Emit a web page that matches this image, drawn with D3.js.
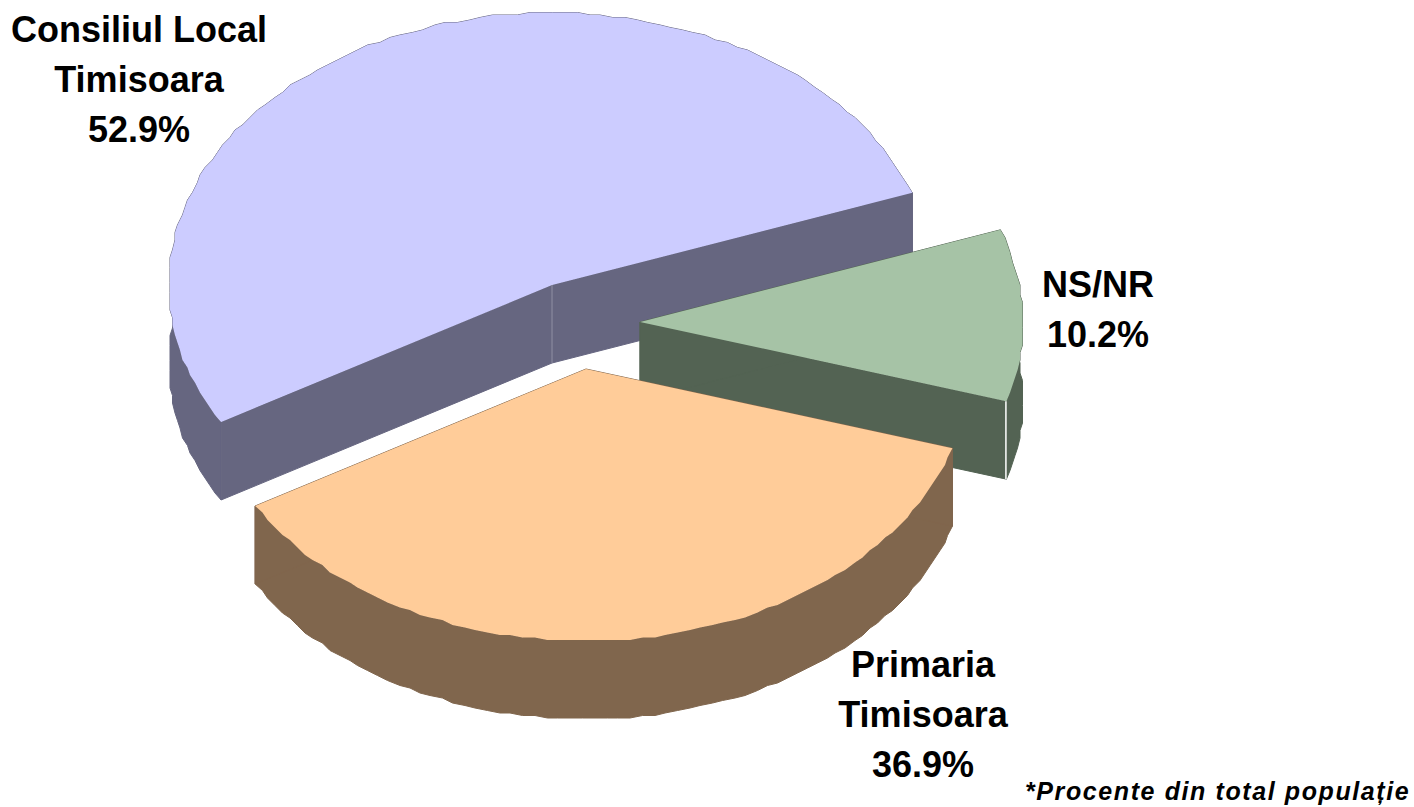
<!DOCTYPE html>
<html>
<head>
<meta charset="utf-8">
<script src="https://cdnjs.cloudflare.com/ajax/libs/d3/7.8.5/d3.min.js"></script>
<style>
  html, body { margin: 0; padding: 0; background: #fff; }
  text { font-family: "Liberation Sans", Arial, sans-serif; font-weight: bold; fill: #000; }
</style>
</head>
<body>
<div id="chart"></div>
<script>
var categories = ['Consiliul Local', 'Primaria', 'NS/NR'];
var categoryLines = [['Consiliul Local', 'Timisoara'], ['Primaria', 'Timisoara'], ['NS/NR']];
var values = [52.9, 36.9, 10.2];
var footnote = '*Procente din total populație';

var width = 1414;
var height = 807;

// layout of the exploded slices, same order as categories
var centers = [[552, 285], [586, 369], [640, 322]];
var topColors = ['#ccccff', '#ffcc99', '#a6c3a6'];
var sideColors = ['#666680', '#80664d', '#536353'];
var labelX = [139, 923, 1098];
var labelY = [42, 677, 297];
var drawOrder = [0, 2, 1];

var rx = 383;
var ry = 272;
var depth = 78;
var rimStep = Math.PI / 100;
var rimGrid = 2.5; // the original outline is rough, snap rim points to a coarse grid

var svg = d3.select('#chart')
  .append('svg')
  .attr('width', width)
  .attr('height', height);

// clockwise from north, first slice runs backwards over the top of the pie
var firstAngle = 70.2 * Math.PI / 180;
var pie = d3.pie()
  .sort(null)
  .startAngle(firstAngle)
  .endAngle(firstAngle - 2 * Math.PI);

var slices = pie(values);

function rimPoints(slice) {
  var a = slice.startAngle;
  var b = slice.endAngle;
  var n = Math.ceil(Math.abs(b - a) / rimStep);
  return d3.range(n + 1).map(function(i) {
    var p = [slice.px(a + (b - a) * i / n), slice.py(a + (b - a) * i / n)];
    if (i === 0 || i === n) return p;
    return [Math.round(p[0] / rimGrid) * rimGrid, Math.round(p[1] / rimGrid) * rimGrid];
  });
}

slices.forEach(function(slice, i) {
  var x = d3.scaleLinear().domain([-1, 1]).range([centers[i][0] - rx, centers[i][0] + rx]);
  var y = d3.scaleLinear().domain([-1, 1]).range([centers[i][1] - ry, centers[i][1] + ry]);
  slice.px = function(a) { return x(Math.sin(a)); };
  slice.py = function(a) { return y(-Math.cos(a)); };
  slice.cx = x(0);
  slice.cy = y(0);
});

var line = d3.line();

drawOrder.forEach(function(i) {
  var slice = slices[i];
  var top = rimPoints(slice);
  var bottom = top.map(function(p) { return [p[0], p[1] + depth]; }).reverse();
  var g = svg.append('g').attr('class', 'slice');

  // outer wall
  g.append('path')
    .attr('d', line(top.concat(bottom)) + 'Z')
    .attr('fill', sideColors[i])
    .attr('stroke', sideColors[i])
    .attr('stroke-width', 1);

  // the two cut walls
  [top[0], top[top.length - 1]].forEach(function(p) {
    g.append('path')
      .attr('d', line([[slice.cx, slice.cy], p, [p[0], p[1] + depth], [slice.cx, slice.cy + depth]]) + 'Z')
      .attr('fill', sideColors[i])
      .attr('stroke', sideColors[i])
      .attr('stroke-width', 1);
  });

  // top face
  g.append('path')
    .attr('d', line([[slice.cx, slice.cy]].concat(top)) + 'Z')
    .attr('fill', topColors[i]);
});

// seams between walls
var first = slices[0];
svg.append('line')
  .attr('x1', first.cx).attr('x2', first.cx)
  .attr('y1', first.cy).attr('y2', first.cy + depth)
  .attr('stroke', '#8f8fa3')
  .attr('stroke-width', 1);

var last = slices[2];
svg.append('line')
  .attr('x1', last.px(last.startAngle) - 0.5).attr('x2', last.px(last.startAngle) - 0.5)
  .attr('y1', last.py(last.startAngle)).attr('y2', last.py(last.startAngle) + depth)
  .attr('stroke', '#fff')
  .attr('stroke-width', 1.5);

// labels
var format = d3.format('.1f');
categories.forEach(function(c, i) {
  var lines = categoryLines[i].concat(format(values[i]) + '%');
  var label = svg.append('text')
    .attr('class', 'label')
    .attr('text-anchor', 'middle')
    .attr('font-size', 36);
  lines.forEach(function(t, k) {
    label.append('tspan')
      .attr('x', labelX[i])
      .attr('y', labelY[i] + k * 50)
      .text(t);
  });
});

svg.append('text')
  .attr('x', 1025)
  .attr('y', 800)
  .attr('font-size', 25)
  .attr('font-style', 'italic')
  .attr('letter-spacing', 1.6)
  .text(footnote);
</script>
</body>
</html>
